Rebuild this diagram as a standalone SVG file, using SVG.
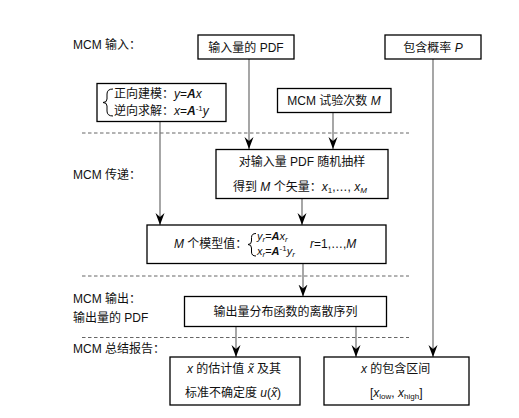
<svg xmlns="http://www.w3.org/2000/svg" width="519" height="418" viewBox="0 0 519 418">
<defs>
<marker id="ah" markerUnits="userSpaceOnUse" markerWidth="12" markerHeight="10" viewBox="0 0 12 10" refX="12" refY="5" orient="auto">
<path d="M0,0.5 L12,5 L0,9.5 L4,5 z" fill="#000"/>
</marker>
<style>
text{font-family:"Liberation Sans","Noto Sans CJK SC",sans-serif;font-size:12px;fill:#111}
.sm{font-size:11px}
.i{font-style:italic}
.b{font-weight:bold;font-style:italic}
.box{fill:#fff;stroke:#000;stroke-width:1.3}
.con{stroke:#777;stroke-width:1.3;fill:none}
.dash{stroke:#666;stroke-width:1;stroke-dasharray:3.5,2.5;fill:none}
.sub{font-size:8px}
</style>
</defs>
<rect width="519" height="418" fill="#fff"/>
<g id="labels">
<text x="73" y="49">MCM 输入：</text>
<text x="73" y="179">MCM 传递：</text>
<text x="73" y="303">MCM 输出：</text>
<text x="73" y="322">输出量的 PDF</text>
<text x="73" y="353">MCM 总结报告：</text>
</g>
<g id="dividers">
<line class="dash" x1="82" y1="133" x2="409" y2="133"/>
<line class="dash" x1="82" y1="276" x2="409" y2="276"/>
<line class="dash" x1="82" y1="337.5" x2="409" y2="337.5"/>
</g>
<g id="connectors">
<path class="con" d="M249,59 V149" marker-end="url(#ah)"/>
<path class="con" d="M333,112 V149" marker-end="url(#ah)"/>
<path class="con" d="M160,122 V225" marker-end="url(#ah)"/>
<path class="con" d="M302,198 V225" marker-end="url(#ah)"/>
<path class="con" d="M303,263 V296.5" marker-end="url(#ah)"/>
<path class="con" d="M236,327 V357" marker-end="url(#ah)"/>
<path class="con" d="M356,327 V357" marker-end="url(#ah)"/>
<path class="con" d="M433,59 V357" marker-end="url(#ah)"/>
</g>
<g id="n-pdf">
<rect class="box" x="198" y="35" width="96" height="24"/>
<text x="246" y="52" text-anchor="middle">输入量的 PDF</text>
</g>
<g id="n-p">
<rect class="box" x="385" y="35" width="96" height="24"/>
<text x="433" y="52" text-anchor="middle">包含概率 <tspan class="i">P</tspan></text>
</g>
<g id="n-model">
<rect class="box" x="97" y="83.5" width="129" height="38"/>
<path d="M113,89 Q107,89 107,94 V99 Q107,102.5 103,102.5 Q107,102.5 107,106 V111 Q107,116 113,116" fill="none" stroke="#000" stroke-width="1"/>
<text x="114" y="98">正向建模：<tspan class="i">y</tspan>=<tspan class="b">A</tspan><tspan class="i">x</tspan></text>
<text x="114" y="115">逆向求解：<tspan class="i">x</tspan>=<tspan class="b">A</tspan><tspan class="sub" dy="-4">-1</tspan><tspan class="i" dy="4">y</tspan></text>
</g>
<g id="n-m">
<rect class="box" x="277.5" y="88.5" width="113.5" height="24"/>
<text x="334" y="105" text-anchor="middle">MCM 试验次数 <tspan class="i">M</tspan></text>
</g>
<g id="n-sample">
<rect class="box" x="216" y="149.5" width="172" height="49"/>
<text x="302" y="166" text-anchor="middle">对输入量 PDF 随机抽样</text>
<text x="233" y="191">得到 <tspan class="i">M</tspan> 个矢量：<tspan class="i">x</tspan><tspan class="sub" dy="2">1</tspan><tspan dy="-2">,…, </tspan><tspan class="i">x</tspan><tspan class="sub i" dy="2">M</tspan></text>
</g>
<g id="n-values">
<rect class="box" x="147" y="225" width="239" height="38.5"/>
<text x="174" y="248"><tspan class="i">M</tspan> 个模型值：</text>
<path d="M256,233.5 Q251.5,233.5 251.5,237.5 V241 Q251.5,244.5 248,244.5 Q251.5,244.5 251.5,248 V252 Q251.5,256 256,256" fill="none" stroke="#000" stroke-width="1"/>
<text x="257" y="240" class="sm"><tspan class="i">y</tspan><tspan class="sub i" dy="2">r</tspan><tspan dy="-2">=</tspan><tspan class="b">A</tspan><tspan class="i">x</tspan><tspan class="sub i" dy="2">r</tspan></text>
<text x="257" y="255" class="sm"><tspan class="i">x</tspan><tspan class="sub i" dy="2">r</tspan><tspan dy="-2">=</tspan><tspan class="b">A</tspan><tspan class="sub" dy="-4">-1</tspan><tspan class="i" dy="4">y</tspan><tspan class="sub i" dy="2">r</tspan></text>
<text x="310" y="248"><tspan class="i">r</tspan>=1,…,<tspan class="i">M</tspan></text>
</g>
<g id="n-output">
<rect class="box" x="184.5" y="296.5" width="202" height="30"/>
<text x="285.5" y="315.5" text-anchor="middle">输出量分布函数的离散序列</text>
</g>
<g id="n-estimate">
<rect class="box" x="170" y="357" width="130" height="48"/>
<text x="187" y="373"><tspan class="i">x</tspan> 的估计值 <tspan class="i">x̃</tspan> 及其</text>
<text x="185" y="397">标准不确定度 <tspan class="i">u</tspan>(<tspan class="i">x̃</tspan>)</text>
</g>
<g id="n-interval">
<rect class="box" x="324" y="357" width="145" height="48"/>
<text x="361" y="373"><tspan class="i">x</tspan> 的包含区间</text>
<text x="370" y="397">[<tspan class="i">x</tspan><tspan class="sub" dy="2">low</tspan><tspan dy="-2">, </tspan><tspan class="i">x</tspan><tspan class="sub" dy="2">high</tspan><tspan dy="-2">]</tspan></text>
</g>
</svg>
